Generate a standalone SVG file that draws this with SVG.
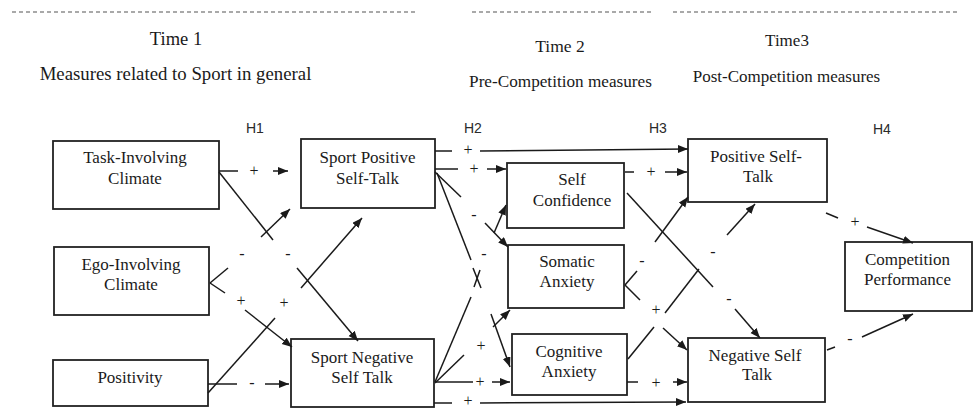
<svg xmlns="http://www.w3.org/2000/svg" width="974" height="408" viewBox="0 0 974 408">
<defs>
<marker id="ah" markerUnits="userSpaceOnUse" markerWidth="11" markerHeight="9" refX="10" refY="4" orient="auto">
<path d="M0,0 L10,4 L0,8 z" fill="#1a1a1a"/>
</marker>
<style>
.box{fill:#fff;stroke:#222;stroke-width:1.8}
.t{font-family:"Liberation Serif","DejaVu Serif","Times New Roman",serif;font-size:17px;fill:#1a1a1a;text-anchor:middle}
.hd{font-family:"Liberation Serif","DejaVu Serif","Times New Roman",serif;fill:#1a1a1a;text-anchor:middle}
.h{font-family:"Liberation Sans",Arial,sans-serif;font-size:14px;fill:#2a2a2a}
.lb{font-family:"Liberation Serif","DejaVu Serif","Times New Roman",serif;font-size:16px;fill:#1a1a1a;text-anchor:middle}
.c line{stroke:#1a1a1a;stroke-width:1.5;fill:none}
.c line.a{marker-end:url(#ah)}
.dl{stroke:#555;stroke-width:1.2;stroke-dasharray:4 3}
</style>
</defs>
<rect width="974" height="408" fill="#fff"/>
<g id="headers">
<line class="dl" x1="12" y1="12" x2="418" y2="12"/>
<line class="dl" x1="472" y1="12" x2="651" y2="12"/>
<line class="dl" x1="673" y1="12" x2="960" y2="12"/>
<text class="hd" x="176" y="45" font-size="18.5">Time 1</text>
<text class="hd" x="175.5" y="80" font-size="18.8">Measures related to Sport in general</text>
<text class="hd" x="560" y="52" font-size="17.5">Time 2</text>
<text class="hd" x="560.5" y="87" font-size="17.2">Pre-Competition measures</text>
<text class="hd" x="787" y="46" font-size="17">Time3</text>
<text class="hd" x="786.5" y="82" font-size="17">Post-Competition measures</text>
<text class="h" x="246" y="133">H1</text>
<text class="h" x="464" y="133">H2</text>
<text class="h" x="649" y="133">H3</text>
<text class="h" x="873" y="134">H4</text>
</g>
<g id="task"><rect class="box" x="53" y="141" width="166" height="68"/><text class="t" x="135" y="163">Task-Involving</text><text class="t" x="135" y="184">Climate</text></g>
<g id="ego"><rect class="box" x="54" y="247" width="155" height="68"/><text class="t" x="131" y="270">Ego-Involving</text><text class="t" x="131" y="290">Climate</text></g>
<g id="positivity"><rect class="box" x="53" y="360" width="155" height="46"/><text class="t" x="130" y="383">Positivity</text></g>
<g id="sportpos"><rect class="box" x="301" y="139" width="134" height="69"/><text class="t" x="367.5" y="163">Sport Positive</text><text class="t" x="367.5" y="184">Self-Talk</text></g>
<g id="sportneg"><rect class="box" x="291" y="339" width="143" height="68"/><text class="t" x="362" y="363">Sport Negative</text><text class="t" x="362" y="383">Self Talk</text></g>
<g id="selfconf"><rect class="box" x="507" y="163" width="117" height="65"/><text class="t" x="572" y="185">Self</text><text class="t" x="572" y="206">Confidence</text></g>
<g id="somatic"><rect class="box" x="508" y="245" width="116" height="63"/><text class="t" x="567" y="267">Somatic</text><text class="t" x="567" y="287">Anxiety</text></g>
<g id="cognitive"><rect class="box" x="512" y="334" width="115" height="61"/><text class="t" x="569" y="357">Cognitive</text><text class="t" x="569" y="377">Anxiety</text></g>
<g id="posst"><rect class="box" x="688" y="139" width="139" height="63"/><text class="t" x="756" y="162">Positive Self-</text><text class="t" x="758" y="182">Talk</text></g>
<g id="negst"><rect class="box" x="688" y="338" width="137" height="64"/><text class="t" x="755" y="361">Negative Self</text><text class="t" x="757" y="380">Talk</text></g>
<g id="comp"><rect class="box" x="845" y="242" width="127" height="69"/><text class="t" x="907.5" y="265">Competition</text><text class="t" x="907.5" y="285">Performance</text></g>
<g id="connectors" class="c">
<line x1="219" y1="171" x2="238" y2="171"/><line class="a" x1="273" y1="171" x2="288" y2="171"/>
<line x1="219" y1="172" x2="273" y2="240"/><line class="a" x1="297" y1="268" x2="358" y2="341"/>
<line x1="210" y1="283" x2="228" y2="268"/><line class="a" x1="261" y1="237" x2="290" y2="209"/>
<line x1="210" y1="283" x2="225" y2="293"/><line class="a" x1="245" y1="310" x2="292" y2="347"/>
<line x1="208" y1="393" x2="275" y2="318"/><line class="a" x1="301" y1="288" x2="362" y2="218"/>
<line x1="208" y1="384" x2="237" y2="384"/><line class="a" x1="265" y1="384" x2="289" y2="384"/>
<line x1="435" y1="151" x2="452" y2="151"/><line class="a" x1="480" y1="151" x2="688" y2="149"/>
<line x1="435" y1="169" x2="458" y2="169"/><line class="a" x1="487" y1="169" x2="506" y2="169"/>
<line x1="435" y1="172" x2="461" y2="197"/><line class="a" x1="485" y1="223" x2="508" y2="247"/>
<line x1="437" y1="173" x2="471" y2="260"/><line x1="473" y1="268" x2="481" y2="288"/><line class="a" x1="491" y1="314" x2="510" y2="367"/>
<line x1="435" y1="382" x2="471" y2="297"/><line x1="474" y1="287" x2="480" y2="270"/><line class="a" x1="494" y1="233" x2="506" y2="205"/>
<line x1="435" y1="383" x2="464" y2="355"/><line class="a" x1="493" y1="327" x2="510" y2="310"/>
<line x1="435" y1="382" x2="473" y2="382"/><line class="a" x1="492" y1="382" x2="510" y2="382"/>
<line x1="434" y1="403" x2="452" y2="403"/><line class="a" x1="480" y1="403" x2="686" y2="402"/>
<line x1="625" y1="172" x2="634" y2="172"/><line class="a" x1="665" y1="172" x2="687" y2="172"/>
<line x1="627" y1="193" x2="713" y2="287"/><line class="a" x1="735" y1="309" x2="760" y2="338"/>
<line x1="625" y1="285" x2="637" y2="271"/><line class="a" x1="655" y1="242" x2="688" y2="197"/>
<line x1="625" y1="285" x2="640" y2="300"/><line class="a" x1="663" y1="328" x2="687" y2="350"/>
<line x1="628" y1="359" x2="654" y2="327"/><line x1="665" y1="313" x2="699" y2="269"/><line class="a" x1="727" y1="235" x2="755" y2="204"/>
<line x1="627" y1="382" x2="638" y2="382"/><line class="a" x1="673" y1="382" x2="687" y2="382"/>
<line x1="826" y1="213" x2="838" y2="218"/><line class="a" x1="867" y1="227" x2="913" y2="243"/>
<line x1="827" y1="350" x2="835" y2="347"/><line class="a" x1="862" y1="337" x2="913" y2="314"/>
</g>
<g id="labels">
<text class="lb" x="254" y="176">+</text>
<text class="lb" x="242" y="259">-</text>
<text class="lb" x="288" y="259">-</text>
<text class="lb" x="241" y="306">+</text>
<text class="lb" x="284" y="308">+</text>
<text class="lb" x="252" y="388">-</text>
<text class="lb" x="468" y="155">+</text>
<text class="lb" x="474" y="174">+</text>
<text class="lb" x="474" y="220">-</text>
<text class="lb" x="484" y="259">-</text>
<text class="lb" x="481" y="351">+</text>
<text class="lb" x="480" y="387">+</text>
<text class="lb" x="468" y="406">+</text>
<text class="lb" x="651" y="177">+</text>
<text class="lb" x="642" y="266">-</text>
<text class="lb" x="713" y="257">-</text>
<text class="lb" x="729" y="304">-</text>
<text class="lb" x="656" y="315">+</text>
<text class="lb" x="656" y="388">+</text>
<text class="lb" x="855" y="227">+</text>
<text class="lb" x="850" y="344">-</text>
</g>
</svg>
